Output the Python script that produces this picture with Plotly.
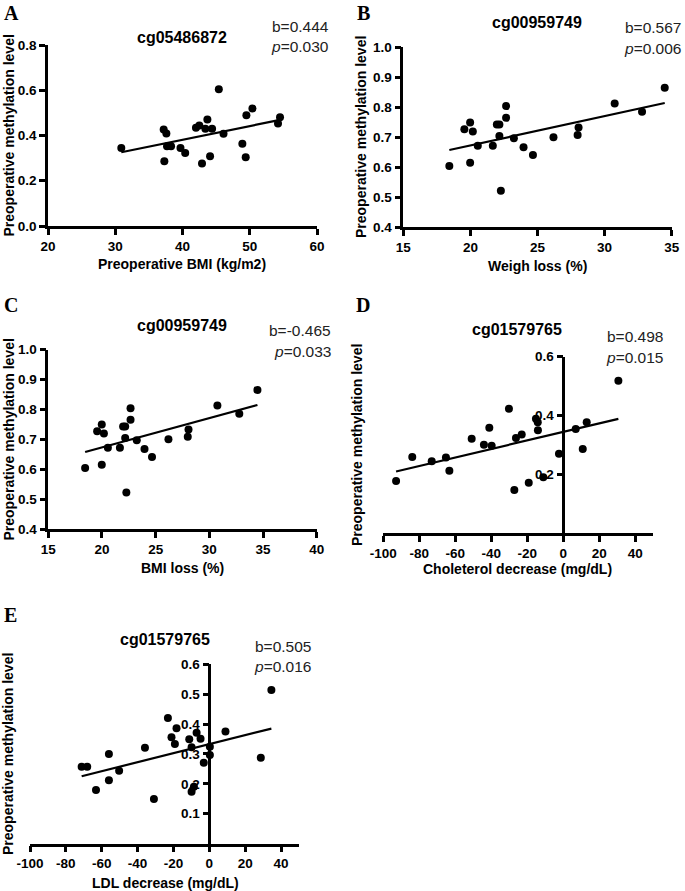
import numpy as np
import plotly.graph_objects as go

# ---------------- data ----------------
# Panel A: cg05486872 vs preoperative BMI
a_bmi = [30.9, 37.2, 37.6, 37.7, 38.3, 37.3, 39.7, 40.4, 42.9, 44.1, 48.9, 49.4,
         42.0, 42.5, 43.7, 43.4, 44.4, 45.4, 46.1, 49.5, 50.4, 54.5, 54.2]
a_meth = [0.345, 0.427, 0.409, 0.352, 0.352, 0.286, 0.345, 0.323, 0.276, 0.308, 0.364, 0.304,
          0.434, 0.444, 0.471, 0.430, 0.430, 0.604, 0.408, 0.490, 0.519, 0.481, 0.453]

# Panel B/C: cg00959749 vs weight loss / BMI loss (%)
b_loss = [19.55, 19.98, 20.18, 20.55, 21.97, 22.16, 22.66, 22.66, 22.16, 21.67, 23.24,
          23.96, 26.19, 27.99, 28.06, 30.75, 32.79, 34.48, 18.43, 19.98, 22.27, 24.66]
b_meth = [0.727, 0.749, 0.719, 0.672, 0.743, 0.743, 0.804, 0.765, 0.704, 0.672, 0.697,
          0.667, 0.700, 0.708, 0.733, 0.813, 0.785, 0.865, 0.604, 0.615, 0.522, 0.641]
c_loss = list(b_loss)
c_meth = list(b_meth)

# Panel D: cg01579765 vs cholesterol decrease
d_chol = [-92.9, -83.9, -73.1, -65.2, -63.3, -50.9, -44.1, -41.1, -39.8, -30.2, -27.2, -26.3,
          -23.1, -19.2, -15.2, -14.2, -14.1, -11.1, -2.4, 6.9, 10.8, 13.0, 30.6]
d_meth = [0.177, 0.259, 0.244, 0.257, 0.212, 0.321, 0.300, 0.358, 0.297, 0.423, 0.146, 0.323,
          0.335, 0.171, 0.389, 0.377, 0.350, 0.190, 0.270, 0.354, 0.286, 0.377, 0.518]

# Panel E: cg01579765 vs LDL decrease
e_ldl = [-71.2, -68.1, -63.2, -56.0, -56.0, -50.3, -35.9, -30.9, -23.1, -21.1, -18.3, -19.2,
         -11.2, -7.1, -4.9, -9.9, -3.1, -9.9, -8.6, 0.3, 0.3, 9.0, 28.7, 34.6]
e_meth = [0.257, 0.257, 0.179, 0.300, 0.212, 0.244, 0.321, 0.149, 0.420, 0.356, 0.386, 0.333,
          0.349, 0.371, 0.351, 0.322, 0.270, 0.173, 0.190, 0.324, 0.296, 0.375, 0.287, 0.514]

titles = ["cg05486872", "cg00959749", "cg00959749", "cg01579765", "cg01579765"]
stats_b = ["b=0.444", "b=0.567", "b=-0.465", "b=0.498", "b=0.505"]
stats_p = ["0.030", "0.006", "0.033", "0.015", "0.016"]
x_titles = ["Preoperative BMI (kg/m2)", "Weigh loss (%)", "BMI loss (%)",
            "Choleterol decrease (mg/dL)", "LDL decrease (mg/dL)"]
y_title = "Preoperative methylation level"
letters = ["A", "B", "C", "D", "E"]

# tick values
a_xticks = [20, 30, 40, 50, 60]
b_xticks = [15, 20, 25, 30, 35]
c_xticks = [15, 20, 25, 30, 35, 40]
de_xticks = [-100, -80, -60, -40, -20, 0, 20, 40]
a_yticks = [0, 0.2, 0.4, 0.6, 0.8]
bc_yticks = [0.4, 0.5, 0.6, 0.7, 0.8, 0.9, 1.0]
d_yticks = [0.2, 0.4, 0.6]
e_yticks = [0.1, 0.2, 0.3, 0.4, 0.5, 0.6]

# ---------------- layout helpers ----------------
W, H = 685, 891
def fx(px):
    return px / W
def fy(py):
    return 1 - py / H

SANS = "Arial, Liberation Sans, sans-serif"
SERIF = "Times New Roman, Liberation Serif, serif"

fig = go.Figure()

panels = [
    dict(x=a_bmi, y=a_meth, xd=(48, 317), yd=(226, 45), xr=[20, 60], xt=a_xticks,
         yr=[0, 0.8], yt=a_yticks, ypos=None),
    dict(x=b_loss, y=b_meth, xd=(403.3, 671.7), yd=(227.3, 47.3), xr=[15, 35], xt=b_xticks,
         yr=[0.4, 1.0], yt=bc_yticks, ypos=None),
    dict(x=c_loss, y=c_meth, xd=(48.3, 316.7), yd=(529, 349.5), xr=[15, 40], xt=c_xticks,
         yr=[0.4, 1.0], yt=bc_yticks, ypos=None),
    dict(x=d_chol, y=d_meth, xd=(383.3, 653.3), yd=(533, 356.7), xr=[-100, 50],
         xt=de_xticks, yr=[0, 0.6], yt=d_yticks, ypos=563.3),
    dict(x=e_ldl, y=e_meth, xd=(30, 299), yd=(843.5, 664.3), xr=[-100, 50],
         xt=de_xticks, yr=[0, 0.6], yt=e_yticks, ypos=209.3),
]

# text positions (pixels)
letter_pos = [(11, 13), (363, 13), (11, 305), (363, 305), (10, 615)]
title_pos = [(182, 37), (537, 22), (182, 325), (517, 329), (165, 639)]
stat_pos = [(331, 27, 47), (683, 28, 49), (333, 330, 351), (665, 337, 357), (313, 646, 666)]
xt_pos = [(182, 264), (537, 266), (182, 568), (517, 569), (165, 883)]
yt_pos = [(8, 135.5), (361, 137), (8, 439.5), (357, 445), (8, 754)]

axis_common = dict(showgrid=False, zeroline=False, showline=True, linecolor="black", linewidth=2.5,
                   ticks="outside", ticklen=6, tickwidth=2.5, tickcolor="black", automargin=False,
                   tickfont=dict(family=SANS, size=13.5, color="black", weight="bold"))

annotations = []
for i, p in enumerate(panels):
    k = "" if i == 0 else str(i + 1)
    xs = np.array(p["x"], dtype=float)
    ys = np.array(p["y"], dtype=float)
    fig.add_trace(go.Scatter(x=xs, y=ys, mode="markers", xaxis="x" + k, yaxis="y" + k,
                             marker=dict(color="black", size=8), showlegend=False, cliponaxis=False))
    slope, icpt = np.polyfit(xs, ys, 1)
    lx = np.array([xs.min(), xs.max()])
    fig.add_trace(go.Scatter(x=lx, y=slope * lx + icpt, mode="lines", xaxis="x" + k, yaxis="y" + k,
                             line=dict(color="black", width=2.2), showlegend=False))

    xa = dict(axis_common, domain=[fx(p["xd"][0]), fx(p["xd"][1])], range=p["xr"],
              tickvals=p["xt"], ticktext=[str(v) for v in p["xt"]], anchor="y" + k)
    ya = dict(axis_common, domain=[fy(p["yd"][0]), fy(p["yd"][1])], range=p["yr"],
              tickvals=p["yt"], ticktext=["%.1f" % v for v in p["yt"]])
    if p["ypos"] is None:
        ya["anchor"] = "x" + k
    else:
        ya["anchor"] = "free"
        ya["position"] = fx(p["ypos"])
    fig.update_layout(**{"xaxis" + k: xa, "yaxis" + k: ya})

    lx_, ly_ = letter_pos[i]
    annotations.append(dict(x=fx(lx_), y=fy(ly_), xref="paper", yref="paper", text="<b>%s</b>" % letters[i],
                            showarrow=False, xanchor="center", yanchor="middle",
                            font=dict(family=SERIF, size=20, color="black")))
    tx, ty = title_pos[i]
    annotations.append(dict(x=fx(tx), y=fy(ty), xref="paper", yref="paper", text=titles[i],
                            showarrow=False, xanchor="center", yanchor="middle",
                            font=dict(family=SANS, size=16, color="black", weight="bold")))
    sx, sy1, sy2 = stat_pos[i]
    annotations.append(dict(x=fx(sx), y=fy(sy1), xref="paper", yref="paper", text=stats_b[i],
                            showarrow=False, xanchor="right", yanchor="middle",
                            font=dict(family=SANS, size=15.5, color="#222222")))
    annotations.append(dict(x=fx(sx), y=fy(sy2), xref="paper", yref="paper",
                            text="<i>p</i>=" + stats_p[i],
                            showarrow=False, xanchor="right", yanchor="middle",
                            font=dict(family=SANS, size=15.5, color="#222222")))
    ax_, ay_ = xt_pos[i]
    annotations.append(dict(x=fx(ax_), y=fy(ay_), xref="paper", yref="paper", text=x_titles[i],
                            showarrow=False, xanchor="center", yanchor="middle",
                            font=dict(family=SANS, size=14, color="black", weight="bold")))
    yx_, yy_ = yt_pos[i]
    annotations.append(dict(x=fx(yx_), y=fy(yy_), xref="paper", yref="paper", text=y_title,
                            showarrow=False, xanchor="center", yanchor="middle", textangle=-90,
                            font=dict(family=SANS, size=14, color="black", weight="bold")))

fig.update_layout(width=W, height=H, margin=dict(l=0, r=0, t=0, b=0, pad=0, autoexpand=False),
                  paper_bgcolor="white", plot_bgcolor="white", annotations=annotations,
                  showlegend=False)

fig.write_html("out.html", config={"displayModeBar": False},
               post_script="document.body.style.margin='0';document.body.style.overflow='hidden';")
